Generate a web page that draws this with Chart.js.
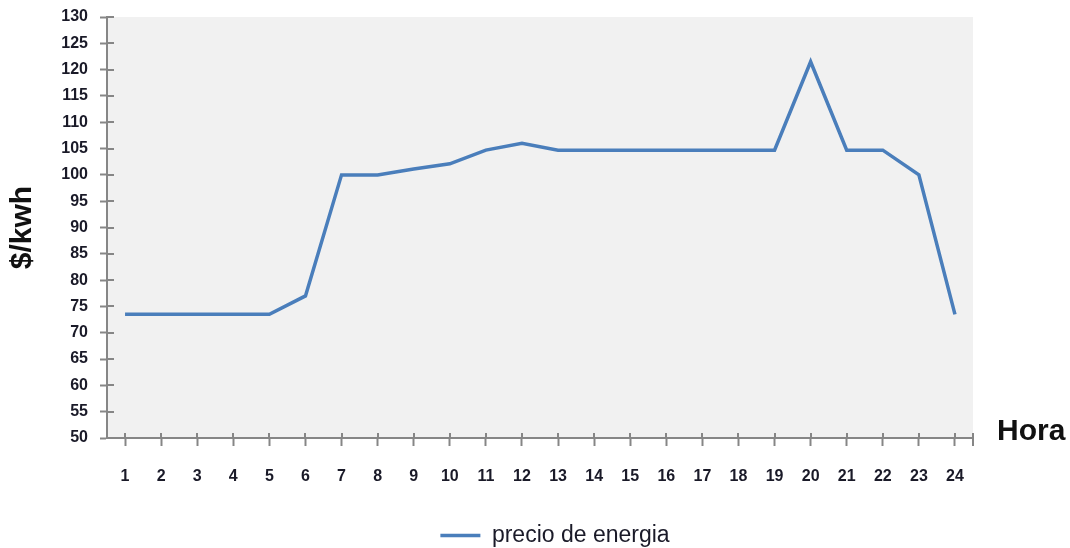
<!DOCTYPE html>
<html>
<head>
<meta charset="utf-8">
<script src="https://cdn.jsdelivr.net/npm/chart.js@4"></script>
<style>
  html, body { margin: 0; padding: 0; background: #ffffff; }
  #wrap { width: 1070px; height: 548px; position: relative; }
</style>
</head>
<body>
<div id="wrap"><canvas id="chart"></canvas></div>
<script>
// Hourly energy price ($/kWh) over a day
const horas = ['1','2','3','4','5','6','7','8','9','10','11','12','13','14','15','16','17','18','19','20','21','22','23','24'];
const precioEnergia = [73.5, 73.5, 73.5, 73.5, 73.5, 77, 100, 100, 101.1, 102.1, 104.7, 106, 104.7, 104.7, 104.7, 104.7, 104.7, 104.7, 104.7, 121.5, 104.7, 104.7, 100, 73.5];
const yMin = 50;
const yMax = 130;
const yStep = 5;

const axisColor = '#868686';
const textColor = '#1a1a28';
const lineColor = '#4a7ebb';
const fontFamily = '"Liberation Sans", Arial, sans-serif';

// Grey plot background, tick marks that cross the axes, and the "Hora" caption
const decorations = {
  id: 'decorations',
  afterLayout(chart) {
    // place the legend box so its item sits right of the plot centre, a little lower
    const lg = chart.legend;
    const w = lg.right - lg.left;
    const centre = 555;
    lg.left = centre - w / 2;
    lg.right = lg.left + w;
    lg.top += 9;
    lg.bottom += 9;
  },
  beforeDraw(chart) {
    const { ctx, chartArea: a } = chart;
    ctx.save();
    ctx.fillStyle = '#f1f1f1';
    ctx.fillRect(a.left, a.top, a.right - a.left, a.bottom - a.top);
    ctx.restore();
  },
  afterDraw(chart) {
    const { ctx, chartArea: a, scales } = chart;
    ctx.save();
    ctx.strokeStyle = axisColor;
    ctx.lineWidth = 2;
    ctx.beginPath();
    // inner half of the y ticks
    scales.y.ticks.forEach(t => {
      const py = Math.round(scales.y.getPixelForValue(t.value));
      ctx.moveTo(a.left, py);
      ctx.lineTo(a.left + 7, py);
    });
    // inner half of the x ticks
    horas.forEach((h, i) => {
      const px = Math.round(scales.x.getPixelForValue(i));
      ctx.moveTo(px, a.bottom);
      ctx.lineTo(px, a.bottom - 5);
    });
    // closing tick at the right end of the x axis
    ctx.moveTo(a.right, a.bottom - 5);
    ctx.lineTo(a.right, a.bottom + 8);
    ctx.stroke();

    ctx.fillStyle = '#111111';
    ctx.font = 'bold 30px ' + fontFamily;
    ctx.textAlign = 'left';
    ctx.textBaseline = 'alphabetic';
    ctx.fillText('Hora', a.right + 24, a.bottom + 2);
    ctx.restore();
  }
};

new Chart(document.getElementById('chart'), {
  type: 'line',
  data: {
    labels: horas,
    datasets: [{
      label: 'precio de energia',
      data: precioEnergia,
      borderColor: lineColor,
      backgroundColor: lineColor,
      borderWidth: 3.5,
      pointRadius: 0,
      pointHoverRadius: 0,
      pointStyle: 'line',
      tension: 0
    }]
  },
  options: {
    responsive: true,
    maintainAspectRatio: false,
    animation: false,
    events: [],
    layout: { padding: { top: 17, right: 97, left: 0, bottom: 0 } },
    plugins: {
      tooltip: { enabled: false },
      legend: {
        position: 'bottom',
        labels: {
          usePointStyle: true,
          pointStyleWidth: 40,
          padding: 3,
          color: textColor,
          font: { family: fontFamily, size: 23 }
        }
      }
    },
    scales: {
      x: {
        offset: true,
        grid: {
          display: true,
          drawOnChartArea: false,
          drawTicks: true,
          tickLength: 8,
          tickWidth: 2,
          tickColor: axisColor,
          offset: false
        },
        border: { display: true, color: axisColor, width: 2 },
        ticks: {
          color: textColor,
          padding: 21,
          maxRotation: 0,
          autoSkip: false,
          font: { family: fontFamily, size: 16, weight: 'bold' }
        },
        afterFit(scale) { scale.height = 74; }
      },
      y: {
        min: yMin,
        max: yMax,
        grid: {
          display: true,
          drawOnChartArea: false,
          drawTicks: true,
          tickLength: 7,
          tickWidth: 2,
          tickColor: axisColor
        },
        border: { display: true, color: axisColor, width: 2 },
        ticks: {
          stepSize: yStep,
          color: textColor,
          padding: 12,
          font: { family: fontFamily, size: 16, weight: 'bold' }
        },
        title: {
          display: true,
          text: '$/kwh',
          color: '#111111',
          padding: { top: 5, bottom: 0 },
          font: { family: fontFamily, size: 30, weight: 'bold' }
        },
        afterFit(scale) {
          scale.width = 107;
          scale.paddingTop = 0;
          scale.paddingBottom = 0;
        }
      }
    }
  },
  plugins: [decorations]
});
</script>
</body>
</html>
